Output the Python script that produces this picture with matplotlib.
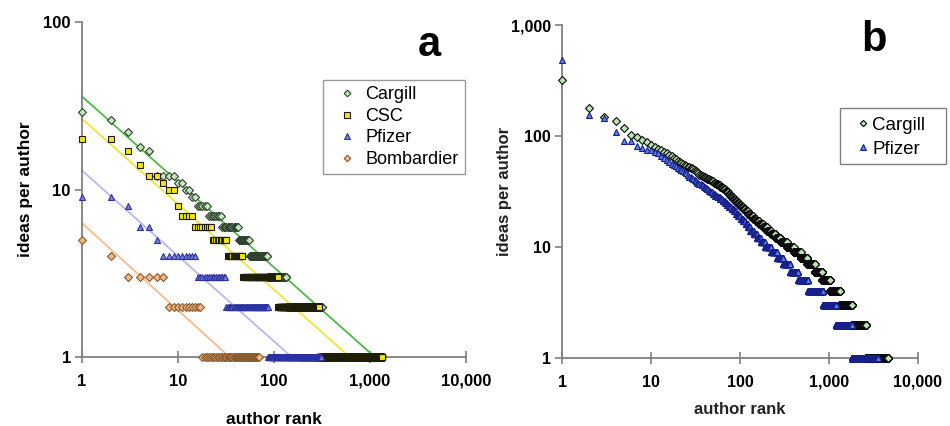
import numpy as np
import matplotlib
matplotlib.use("Agg")
import matplotlib.pyplot as plt
from matplotlib.patches import Rectangle
from matplotlib.ticker import FixedLocator, FixedFormatter, NullLocator

plt.rcParams['font.family'] = ['Liberation Sans', 'DejaVu Sans']

# panel a: ideas per author (level) and how many authors sit on that level
cargill_a_vals = [29, 26, 22, 18, 17, 12, 11, 10, 9, 8, 7, 6, 5, 4, 3, 2, 1]
cargill_a_counts = [1, 1, 1, 1, 1, 4, 2, 2, 2, 5, 8, 14, 13, 30, 50, 180, 930]
csc_a_vals = [20, 17, 14, 12, 11, 10, 8, 7, 6, 5, 4, 3, 2, 1]
csc_a_counts = [2, 1, 1, 2, 1, 2, 1, 4, 8, 10, 15, 63, 185, 1035]
pfizer_a_vals = [9, 8, 6, 5, 4, 3, 2, 1]
pfizer_a_counts = [2, 1, 2, 1, 9, 16, 55, 224]
bomb_a_vals = [5, 4, 3, 2, 1]
bomb_a_counts = [1, 1, 5, 10, 53]

# power-law fits for panel a: ideas = amp * rank^-exp
fit_amp = [36, 26.5, 13, 6.3]
fit_exp = [0.51, 0.51, 0.51, 0.52]

# panel b
cargill_b_vals = [318, 178, 148, 137, 118, 102, 98, 92, 88, 83, 80, 77, 75, 72, 70,
                  68, 66, 64, 62, 60, 58, 57, 56, 55, 54, 53, 52, 51, 50, 49, 48, 47,
                  46, 45, 44, 43, 42, 41, 40, 39, 38, 37, 36, 35, 34, 33, 32, 31, 30,
                  29, 28, 27, 26, 25, 24, 23, 22, 21, 20, 19, 18, 17, 16, 15, 14, 13,
                  12, 11, 10, 9, 8, 7, 6, 5, 4, 3, 2, 1]
cargill_b_counts = [1, 1, 1, 1, 1, 1, 1, 1, 1, 1, 1, 1, 1, 1, 1,
                    1, 1, 1, 1, 1, 1, 1, 1, 1, 1, 2, 1, 1, 1, 1, 1, 1,
                    1, 2, 2, 2, 2, 3, 2, 3, 3, 3, 3, 3, 3, 3, 3, 3, 3,
                    3, 3, 4, 5, 5, 5, 6, 7, 7, 8, 10, 10, 13, 17, 20, 22, 28,
                    35, 50, 65, 80, 90, 120, 150, 190, 300, 480, 790, 2000]
pfizer_b_vals = [485, 155, 145, 108, 90, 82, 78, 75, 72, 70, 66, 63, 61, 58, 56, 55,
                 54, 52, 50, 49, 48, 47, 46, 45, 43, 42, 41, 40, 39, 38, 37, 36, 35,
                 34, 33, 32, 31, 30, 29, 28, 27, 26, 25, 24, 23, 22, 21, 20, 19, 18,
                 17, 16, 15, 14, 13, 12, 11, 10, 9, 8, 7, 6, 5, 4, 3, 2, 1]
pfizer_b_counts = [1, 1, 1, 1, 2, 1, 1, 2, 1, 1, 1, 1, 1, 1, 1, 1,
                   1, 1, 1, 1, 1, 1, 1, 1, 2, 1, 1, 1, 1, 2, 2, 2, 2,
                   2, 2, 2, 3, 3, 3, 4, 4, 4, 4, 4, 5, 5, 5, 5, 6, 7,
                   7, 7, 8, 12, 13, 15, 20, 33, 37, 44, 61, 85, 130, 277, 343, 610, 1740]


def rank_series(vals, counts):
    y = np.repeat(vals, counts)
    return np.arange(1, len(y) + 1), y


def style_axes(ax, ymax, yticks, ylabels, size):
    ax.set_xscale('log')
    ax.set_yscale('log')
    ax.set_xlim(1, 10000)
    ax.set_ylim(1, ymax)
    for s in ['top', 'right']:
        ax.spines[s].set_visible(False)
    for s in ['left', 'bottom']:
        ax.spines[s].set_color('#808080')
        ax.spines[s].set_linewidth(1.3)
    ax.xaxis.set_major_locator(FixedLocator([1, 10, 100, 1000, 10000]))
    ax.xaxis.set_major_formatter(FixedFormatter(['1', '10', '100', '1,000', '10,000']))
    ax.yaxis.set_major_locator(FixedLocator(yticks))
    ax.yaxis.set_major_formatter(FixedFormatter(ylabels))
    ax.xaxis.set_minor_locator(NullLocator())
    ax.yaxis.set_minor_locator(NullLocator())
    ax.tick_params(axis='x', direction='inout', length=8, width=1.2, color='#808080',
                   labelsize=size, pad=8)
    ax.tick_params(axis='y', direction='out', length=5, width=1.2, color='#808080',
                   labelsize=size, pad=3)
    for t in ax.get_xticklabels() + ax.get_yticklabels():
        t.set_fontweight('bold')


fig = plt.figure(figsize=(9.5, 4.26), dpi=100)

# ---- panel a
ax1 = fig.add_axes([0.0863, 0.162, 0.404, 0.786])
style_axes(ax1, 100, [1, 10, 100], ['1', '10', '100'], 12)

series_a = [
    ('Cargill', cargill_a_vals, cargill_a_counts, 'D', 4.2, '#c6e6bf', '#2c402c', '#4fb84a'),
    ('CSC', csc_a_vals, csc_a_counts, 's', 5.0, '#f2e41a', '#1e1e08', '#f0e43a'),
    ('Pfizer', pfizer_a_vals, pfizer_a_counts, '^', 5.0, '#7c80dc', '#2a30a0', '#b8b8ec'),
    ('Bombardier', bomb_a_vals, bomb_a_counts, 'D', 4.2, '#f2b882', '#8a5a30', '#f6bc8c'),
]

for (name, vals, counts, mk, ms, fc, ec, lc), amp, k in zip(series_a, fit_amp, fit_exp):
    xe = amp ** (1 / k)
    xs = np.logspace(0, np.log10(xe), 50)
    ax1.plot(xs, amp * xs ** -k, color=lc, lw=1.3, zorder=2, clip_on=False)

for name, vals, counts, mk, ms, fc, ec, lc in series_a:
    r, y = rank_series(vals, counts)
    ax1.plot(r, y, linestyle='none', marker=mk, ms=ms, mfc=fc, mec=ec, mew=0.8,
             label=name, zorder=3, clip_on=False)

leg = ax1.legend(loc='upper right', bbox_to_anchor=(0.997, 0.827), borderaxespad=0,
                 fontsize=13, frameon=True, fancybox=False, handlelength=2.0,
                 handletextpad=0.0, labelspacing=0.25, borderpad=0.35, markerscale=0.8)
leg.get_frame().set_edgecolor('#808080')
leg.get_frame().set_linewidth(1.0)

ax1.set_xlabel('author rank', fontsize=12.5, fontweight='bold')
ax1.xaxis.set_label_coords(0.5, -0.165)
ax1.set_ylabel('ideas per author', fontsize=12.5, fontweight='bold')
ax1.yaxis.set_label_coords(-0.127, 0.5)

# ---- panel b
ax2 = fig.add_axes([0.5916, 0.1596, 0.3747, 0.7817])
style_axes(ax2, 1000, [1, 10, 100, 1000], ['1', '10', '100', '1,000'], 11.5)

r, y = rank_series(cargill_b_vals, cargill_b_counts)
ax2.plot(r, y, linestyle='none', marker='D', ms=4.0, mfc='#b8e6b0', mec='#0a0a0a',
         mew=0.8, label='Cargill', zorder=3, clip_on=False)
r, y = rank_series(pfizer_b_vals, pfizer_b_counts)
ax2.plot(r, y, linestyle='none', marker='^', ms=4.6, mfc='#5a86e6', mec='#161e88',
         mew=0.8, label='Pfizer', zorder=3, clip_on=False)

# legend b: entries without frame, box drawn separately to match the wide padding
leg2 = ax2.legend(loc='upper left', bbox_to_anchor=(840 / 950, 1 - 110 / 426),
                  bbox_transform=fig.transFigure, borderaxespad=0,
                  fontsize=13.5, frameon=False, handlelength=1.8,
                  handletextpad=-0.43, labelspacing=0.36, borderpad=0.35, markerscale=0.8)
fig.patches.append(Rectangle((840 / 950, 1 - 164 / 426), 106 / 950, 56 / 426,
                             transform=fig.transFigure, fill=False,
                             edgecolor='#808080', linewidth=1.0))

ax2.set_xlabel('author rank', fontsize=12, fontweight='bold', color='#222222')
ax2.xaxis.set_label_coords(0.5, -0.133)
ax2.set_ylabel('ideas per author', fontsize=12, fontweight='bold', color='#222222')
ax2.yaxis.set_label_coords(-0.14, 0.5)

fig.text(0.452, 0.895, 'a', fontsize=30, fontweight='bold', ha='center', va='center')
fig.text(0.92, 0.905, 'b', fontsize=30, fontweight='bold', ha='center', va='center')

fig.savefig('out.png', dpi=100)
